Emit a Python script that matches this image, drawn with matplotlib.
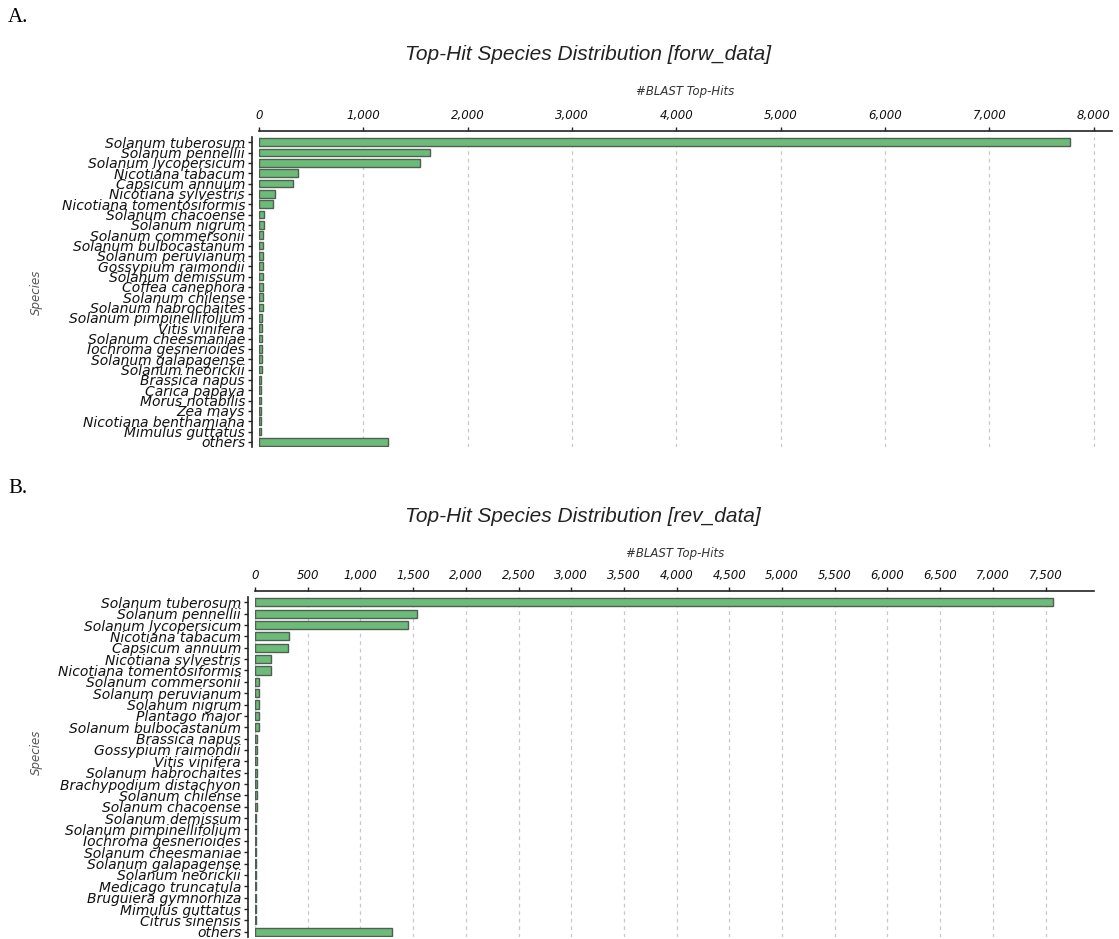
import matplotlib
matplotlib.use("Agg")
import matplotlib.pyplot as plt

# Panel A (forw_data)
especies_a = [
    "Solanum tuberosum", "Solanum pennellii", "Solanum lycopersicum", "Nicotiana tabacum",
    "Capsicum annuum", "Nicotiana sylvestris", "Nicotiana tomentosiformis", "Solanum chacoense",
    "Solanum nigrum", "Solanum commersonii", "Solanum bulbocastanum", "Solanum peruvianum",
    "Gossypium raimondii", "Solanum demissum", "Coffea canephora", "Solanum chilense",
    "Solanum habrochaites", "Solanum pimpinellifolium", "Vitis vinifera", "Solanum cheesmaniae",
    "Iochroma gesnerioides", "Solanum galapagense", "Solanum neorickii", "Brassica napus",
    "Carica papaya", "Morus notabilis", "Zea mays", "Nicotiana benthamiana",
    "Mimulus guttatus", "others",
]
hits_a = [
    7777, 1637, 1541, 378, 330, 151, 134, 45,
    44, 42, 41, 40, 40, 38, 38, 36,
    35, 28, 27, 26, 25, 25, 24, 23,
    22, 22, 21, 20, 20, 1232,
]
ticks_a = [0, 1000, 2000, 3000, 4000, 5000, 6000, 7000, 8000]

# Panel B (rev_data)
especies_b = [
    "Solanum tuberosum", "Solanum pennellii", "Solanum lycopersicum", "Nicotiana tabacum",
    "Capsicum annuum", "Nicotiana sylvestris", "Nicotiana tomentosiformis", "Solanum commersonii",
    "Solanum peruvianum", "Solanum nigrum", "Plantago major", "Solanum bulbocastanum",
    "Brassica napus", "Gossypium raimondii", "Vitis vinifera", "Solanum habrochaites",
    "Brachypodium distachyon", "Solanum chilense", "Solanum chacoense", "Solanum demissum",
    "Solanum pimpinellifolium", "Iochroma gesnerioides", "Solanum cheesmaniae", "Solanum galapagense",
    "Solanum neorickii", "Medicago truncatula", "Bruguiera gymnorhiza", "Mimulus guttatus",
    "Citrus sinensis", "others",
]
hits_b = [
    7568, 1534, 1455, 326, 310, 152, 150, 40,
    38, 37, 36, 35, 16, 16, 16, 15,
    15, 15, 15, 14, 14, 14, 14, 14,
    13, 13, 13, 13, 12, 1297,
]
ticks_b = list(range(0, 8000, 500))

# todo o texto do grafico em italico
plt.rcParams["font.style"] = "italic"

W, H = 1119, 939
fig = plt.figure(figsize=(W / 100, H / 100), dpi=100)

verde = "#6dbb78"
borda = "#4f5f52"


def painel(ax, especies, hits, ticks, xmax):
    y = list(range(len(especies)))
    ax.barh(y, hits, height=0.72, color=verde, edgecolor=borda, linewidth=1, zorder=3)
    ax.set_ylim(len(especies) - 0.5, -0.5)
    ax.set_xlim(0, xmax)
    ax.xaxis.tick_top()
    ax.tick_params(axis="x", length=3, width=1, pad=3.5, color="#222222",
                   labelsize=8.5, labelcolor="#111111")
    ax.tick_params(axis="y", length=3, width=1, pad=2, color="#222222",
                   labelsize=10, labelcolor="#111111")
    ax.set_yticks(y)
    ax.set_yticklabels(especies)
    ax.set_xticks(ticks)
    ax.set_xticklabels([f"{t:,}" for t in ticks])
    ax.grid(axis="x", linestyle=(0, (3, 3)), color="#c8c8c8", linewidth=0.9, zorder=0)
    for s in ["right", "bottom"]:
        ax.spines[s].set_visible(False)
    ax.spines["top"].set_position(("outward", 4))
    ax.spines["left"].set_position(("outward", 5))
    ax.spines["top"].set_color("#222222")
    ax.spines["left"].set_color("#222222")
    ax.spines["top"].set_linewidth(1.2)
    ax.spines["left"].set_linewidth(1.2)


def caixa(x0, x1, y0, y1):
    return [x0 / W, 1 - y1 / H, (x1 - x0) / W, (y1 - y0) / H]


ax_a = fig.add_axes(caixa(259, 1112, 137, 447))
painel(ax_a, especies_a, hits_a, ticks_a, 8176)

ax_b = fig.add_axes(caixa(255, 1094, 596.6, 937.4))
painel(ax_b, especies_b, hits_b, ticks_b, 7960)

# textos
fig.text(8 / W, 1 - 18 / H, "A.", fontsize=15, family="Liberation Serif", style="normal",
         va="center", ha="left")
fig.text(8 / W, 1 - 488 / H, "B.", fontsize=15, family="Liberation Serif", style="normal",
         va="center", ha="left")

fig.text(588 / W, 1 - 55 / H, "Top-Hit Species Distribution [forw_data]", fontsize=15,
         family="Liberation Sans", ha="center", va="center", color="#222222")
fig.text(583 / W, 1 - 517 / H, "Top-Hit Species Distribution [rev_data]", fontsize=15,
         family="Liberation Sans", ha="center", va="center", color="#222222")

fig.text(685 / W, 1 - 92 / H, "#BLAST Top-Hits", fontsize=8.5,
         ha="center", va="center", color="#333333")
fig.text(675 / W, 1 - 553 / H, "#BLAST Top-Hits", fontsize=8.5,
         ha="center", va="center", color="#333333")

fig.text(36 / W, 1 - 292 / H, "Species", fontsize=8.5, rotation=90,
         ha="center", va="center", color="#555555")
fig.text(36 / W, 1 - 752 / H, "Species", fontsize=8.5, rotation=90,
         ha="center", va="center", color="#555555")

fig.savefig("out.png", dpi=100)
